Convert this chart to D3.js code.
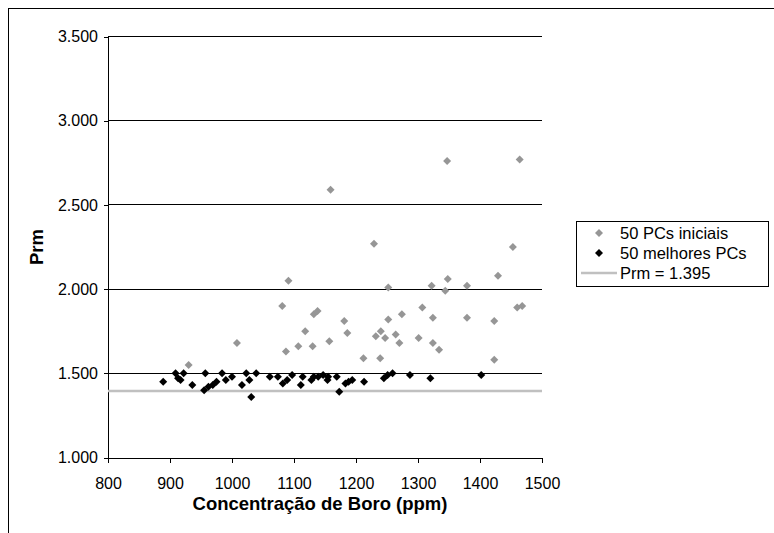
<!doctype html>
<html lang="pt">
<head>
<meta charset="UTF-8">
<title>Prm x Concentração de Boro</title>
<script src="https://d3js.org/d3.v7.min.js"></script>
<style>
  body { margin: 0; background: #fff; }
  svg text { font-family: Arial, "Liberation Sans", sans-serif; fill: #000; }
  .tick-label { font-size: 16px; }
  .axis-title { font-size: 18.5px; font-weight: bold; }
  .legend-text { font-size: 16.5px; }
</style>
</head>
<body>
<svg width="774" height="533"></svg>
<script>
// Boron concentration (ppm) / Prm of the 50 initial PCs (some are hidden under the black ones)
var iniciaisX = [1159, 1091, 1081, 1132, 1138, 1181, 1186, 1118, 1008, 1157, 1107, 1130, 1087,
                 1347, 1464, 1229, 1453, 1429, 1348, 1322, 1379, 1252, 1344, 1307, 1274, 1252,
                 1324, 1379, 1423, 1460, 1468, 1232, 1240, 1247, 1264, 1270, 1301, 1324, 1334,
                 1212, 1239, 1423, 930];
var iniciaisY = [2.59, 2.05, 1.90, 1.85, 1.87, 1.81, 1.74, 1.75, 1.68, 1.69, 1.66, 1.66, 1.63,
                 2.76, 2.77, 2.27, 2.25, 2.08, 2.06, 2.02, 2.02, 2.01, 1.99, 1.89, 1.85, 1.82,
                 1.83, 1.83, 1.81, 1.89, 1.90, 1.72, 1.75, 1.71, 1.73, 1.68, 1.71, 1.68, 1.64,
                 1.59, 1.59, 1.58, 1.55];

// the 50 best PCs
var melhoresX = [889, 909, 913, 917, 922, 936, 957, 955, 962, 969, 975, 984, 990, 1000, 1016,
                 1023, 1028, 1031, 1039, 1061, 1074, 1082, 1089, 1097, 1111, 1114, 1128, 1132,
                 1139, 1147, 1154, 1155, 1169, 1173, 1183, 1188, 1194, 1213, 1245, 1251, 1259,
                 1287, 1320, 1402];
var melhoresY = [1.45, 1.50, 1.47, 1.46, 1.50, 1.43, 1.50, 1.40, 1.42, 1.43, 1.45, 1.50, 1.46, 1.48, 1.43,
                 1.50, 1.46, 1.36, 1.50, 1.48, 1.48, 1.44, 1.46, 1.49, 1.43, 1.48, 1.46, 1.48,
                 1.48, 1.49, 1.46, 1.48, 1.48, 1.39, 1.44, 1.45, 1.46, 1.45, 1.47, 1.49, 1.50,
                 1.49, 1.47, 1.49];

var prmRef = 1.395;

var xTicks = [800, 900, 1000, 1100, 1200, 1300, 1400, 1500];
var yTicks = [1.0, 1.5, 2.0, 2.5, 3.0, 3.5];

var legendLabels = ["50 PCs iniciais", "50 melhores PCs", "Prm = 1.395"];

var cinza = "#969696",
    linhaCinza = "#c0c0c0";

var svg = d3.select("svg");

// outer chart frame (runs past the right/bottom edge of the picture)
svg.append("rect")
    .attr("x", 8.5).attr("y", 8.5)
    .attr("width", 900).attr("height", 700)
    .attr("fill", "none").attr("stroke", "#000").attr("stroke-width", 1);

var x = d3.scaleLinear().domain([800, 1500]).range([108, 542]);
var y = d3.scaleLinear().domain([1, 3.5]).range([457.5, 36.5]);

var fmtY = d3.format(".3f");

// gridlines
svg.append("g")
    .selectAll("line")
    .data(yTicks.slice(1))
    .enter().append("line")
    .attr("x1", x(800)).attr("x2", x(1500))
    .attr("y1", function (d) { return y(d); })
    .attr("y2", function (d) { return y(d); })
    .attr("stroke", "#000")
    .attr("shape-rendering", "crispEdges");

// axes
var xAxis = svg.append("g")
    .attr("transform", "translate(0," + y(1) + ")")
    .call(d3.axisBottom(x).tickValues(xTicks).tickSize(5).tickSizeOuter(0).tickFormat(d3.format("d")));
var yAxis = svg.append("g")
    .attr("transform", "translate(" + x(800) + ",0)")
    .call(d3.axisLeft(y).tickValues(yTicks).tickSize(4).tickSizeOuter(0).tickFormat(fmtY));

[xAxis, yAxis].forEach(function (a) {
  a.selectAll("path, line").attr("stroke", "#000").attr("shape-rendering", "crispEdges");
  a.selectAll("text").attr("class", "tick-label").attr("font-family", null).attr("font-size", null);
});
xAxis.selectAll("text").attr("dy", null).attr("y", 31);
yAxis.selectAll("text").attr("x", -10);

// reference line Prm = 1.395
svg.append("line")
    .attr("x1", x(800)).attr("x2", x(1500))
    .attr("y1", y(prmRef)).attr("y2", y(prmRef))
    .attr("stroke", linhaCinza).attr("stroke-width", 2.5);

var diamond = d3.symbol().type(d3.symbolSquare).size(32);

function drawSeries(xs, ys, color) {
  svg.append("g")
      .selectAll("path")
      .data(xs.map(function (v, i) { return [v, ys[i]]; }))
      .enter().append("path")
      .attr("d", diamond)
      .attr("fill", color)
      .attr("transform", function (d) {
        return "translate(" + x(d[0]) + "," + y(d[1]) + ") rotate(45)";
      });
}

drawSeries(iniciaisX, iniciaisY, cinza);
drawSeries(melhoresX, melhoresY, "#000");

// axis titles
svg.append("text")
    .attr("class", "axis-title")
    .attr("x", 320).attr("y", 510)
    .attr("text-anchor", "middle")
    .text("Concentração de Boro (ppm)");

svg.append("text")
    .attr("class", "axis-title")
    .attr("transform", "translate(43,247) rotate(-90)")
    .attr("text-anchor", "middle")
    .text("Prm");

// legend
var lg = svg.append("g").attr("transform", "translate(576,221)");
lg.append("rect")
    .attr("x", 0.5).attr("y", 0.5)
    .attr("width", 192).attr("height", 65)
    .attr("fill", "#fff").attr("stroke", "#000");

var rowY = [12, 32, 52];
lg.append("path").attr("d", diamond).attr("fill", cinza)
    .attr("transform", "translate(23," + rowY[0] + ") rotate(45)");
lg.append("path").attr("d", diamond).attr("fill", "#000")
    .attr("transform", "translate(23," + rowY[1] + ") rotate(45)");
lg.append("line")
    .attr("x1", 5).attr("x2", 41)
    .attr("y1", rowY[2]).attr("y2", rowY[2])
    .attr("stroke", linhaCinza).attr("stroke-width", 2.5);

lg.selectAll("text.legend-text")
    .data(legendLabels)
    .enter().append("text")
    .attr("class", "legend-text")
    .attr("x", 44)
    .attr("y", function (d, i) { return rowY[i]; })
    .attr("dy", "0.35em")
    .text(function (d) { return d; });
</script>
</body>
</html>
